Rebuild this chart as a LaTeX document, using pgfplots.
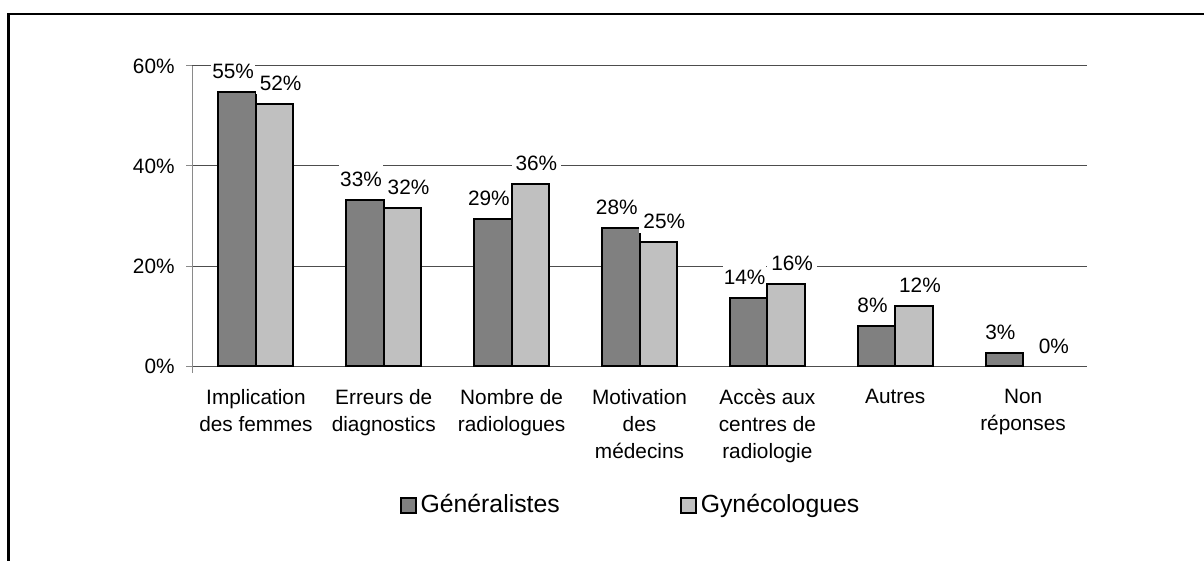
\documentclass[border=0pt]{standalone}
\usepackage{pgfplots}
\pgfplotsset{compat=1.18}
\usepackage{fontspec}
\setmainfont{Liberation Sans}
\definecolor{darkbar}{HTML}{808080}
\definecolor{lightbar}{HTML}{C0C0C0}
\definecolor{gridc}{HTML}{4D4D4D}
\definecolor{yaxc}{HTML}{8A8A8A}
\begin{document}
\begin{tikzpicture}
\useasboundingbox (0,0) rectangle (602pt,-280.5pt);
\draw[line width=1.25pt] (4.15pt,-280.5pt) -- (4.15pt,-7pt) -- (602pt,-7pt);
\begin{axis}[
  at={(96pt,-183pt)}, anchor=south west,
  scale only axis, width=447.5pt, height=150pt,
  xmin=-0.5, xmax=6.5, ymin=0, ymax=60,
  ybar=0pt, bar width=18.75pt,
  axis x line*=bottom, axis y line*=left,
  x axis line style={gridc, line width=0.5pt},
  y axis line style={yaxc, line width=0.5pt},
  xtick={0,...,6},
  xticklabels={Implication\\des femmes, Erreurs de\\diagnostics, Nombre de\\radiologues, Motivation\\des\\médecins, Accès aux\\centres de\\radiologie, Autres, Non\\réponses},
  xtick style={draw=none},
  ytick={0,20,40,60}, yticklabels={0\%,20\%,40\%,60\%},
  ytick style={yaxc, line width=0.5pt},
  major tick length=3pt, tick align=outside,
  ymajorgrids, major grid style={gridc, line width=0.5pt},
  tick label style={font=\fontsize{10.4}{13.6}\selectfont},
  xticklabel style={align=center, anchor=north, inner sep=0pt, yshift=-8.3pt},
  yticklabel style={anchor=east, inner sep=0pt, xshift=-5.5pt},
  point meta=explicit symbolic,
  nodes near coords,
  every node near coord/.append style={anchor=south, fill=white, inner xsep=2pt, inner ysep=0pt, text height=12pt, text depth=2pt, yshift=4.25pt, font=\fontsize{10.4}{12}\selectfont, text=black},
  legend columns=2,
  legend style={draw=none, fill=none, at={(axis description cs:0.491,0)}, anchor=center, yshift=-69.5pt, font=\fontsize{12.4}{14}\selectfont, /tikz/every even column/.append style={column sep=58pt}},
  legend image code/.code={\draw[#1, line width=1pt] (0pt,-3.75pt) rectangle (7.5pt,3.75pt);},
  clip=false,
]
\addplot[fill=darkbar, draw=black, line width=1pt, bar shift=-9.375pt, every node near coord/.append style={xshift=-2pt, inner xsep=0.5pt}] coordinates {
  (0,54.7) [55\%] (1,33.2) [33\%] (2,29.4) [29\%] (3,27.6) [28\%] (4,13.7) [14\%] (5,8.0) [8\%] (6,2.7) [3\%]
};
\addplot[fill=lightbar, draw=black, line width=1pt, bar shift=9.375pt, every node near coord/.append style={xshift=3pt}] coordinates {
  (0,52.4) [52\%] (1,31.6) [32\%] (2,36.4) [36\%] (3,24.8) [25\%] (4,16.4) [16\%] (5,12.1) [12\%]
};
\addplot[draw=none, fill=none, bar shift=9.375pt, forget plot, every node near coord/.append style={xshift=6pt}] coordinates {
  (6,0) [0\%]
};
\legend{Généralistes, Gynécologues}
\draw[yaxc, line width=0.5pt] (axis cs:-0.5,0) -- ++(0pt,-3.5pt);
\end{axis}
\end{tikzpicture}
\end{document}
